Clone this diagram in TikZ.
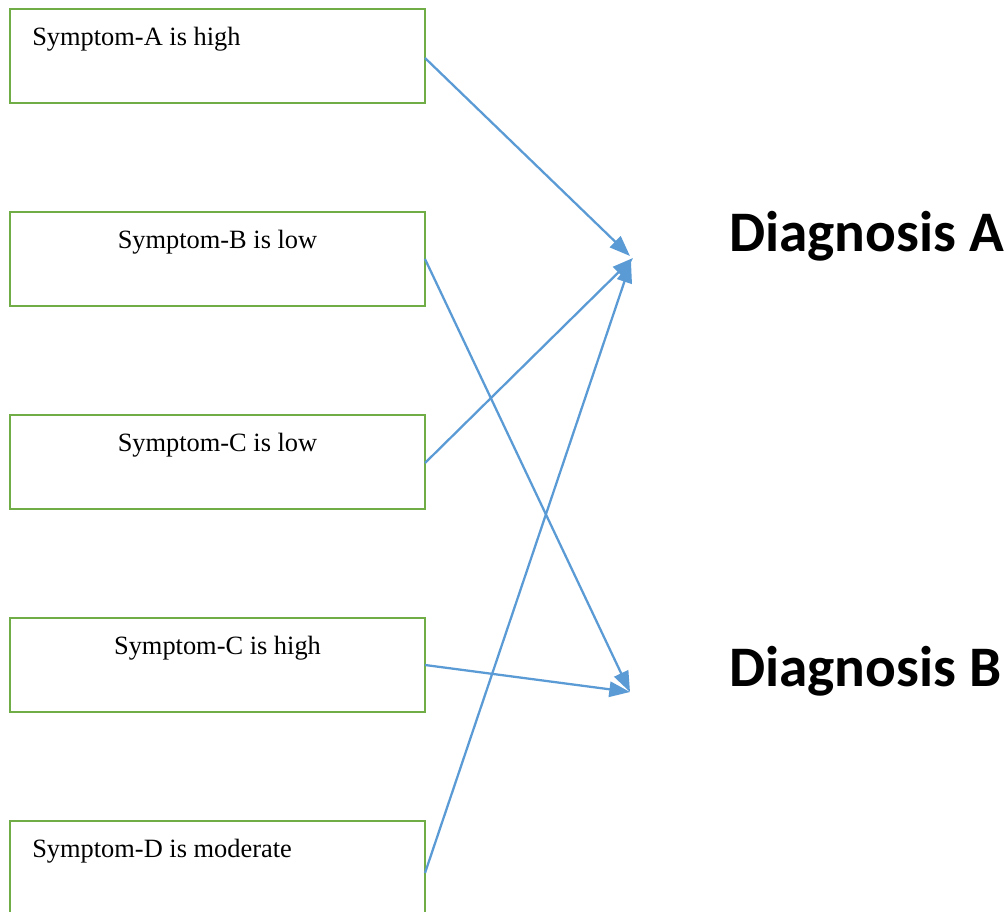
\documentclass[tikz,border=0pt]{standalone}
\usepackage{fontspec}
\setmainfont{Liberation Serif}
\newfontfamily\diagfont{Carlito}
\usetikzlibrary{arrows.meta,calc}
\definecolor{boxgreen}{HTML}{70AD47}
\definecolor{linkblue}{HTML}{5B9BD5}
\tikzset{
  symbox/.style={draw=boxgreen, line width=1.7pt, minimum width=311.25pt,
    minimum height=70.5pt, anchor=north west, inner sep=0pt, outer sep=0pt},
  symtext/.style={font=\fontsize{19.8}{22}\selectfont, inner sep=0pt},
  diagtext/.style={font=\diagfont\bfseries\fontsize{43}{48}\selectfont,
    inner sep=0pt, anchor=base west},
  link/.style={draw=linkblue, line width=1.7pt,
    -{Triangle[length=15.5pt,width=11.5pt]}}
}
\begin{document}
\begin{tikzpicture}[x=0.75pt,y=-0.75pt]
  \clip (0,0) rectangle (1008,912);
  \fill[white] (0,0) rectangle (1008,912);

  % symptom boxes
  \node[symbox] (sa) at (10,9) {};
  \node[symbox] (sb) at (10,212) {};
  \node[symbox] (sc) at (10,415) {};
  \node[symbox] (sd) at (10,618) {};
  \node[symbox, minimum height=78pt] (se) at (10,821) {};

  % symptom labels
  \node[symtext, anchor=base west] (la) at ($(sa.north west)+(22,37)$) {Symptom-A is high};
  \node[symtext, anchor=base] (lb) at ($(sb.north)+(0,37)$) {Symptom-B is low};
  \node[symtext, anchor=base] (lc) at ($(sc.north)+(0,37)$) {Symptom-C is low};
  \node[symtext, anchor=base] (ld) at ($(sd.north)+(0,37)$) {Symptom-C is high};
  \node[symtext, anchor=base west] (le) at ($(se.north west)+(22,37)$) {Symptom-D is moderate};

  % diagnoses
  \node[diagtext] (da) at (729,252) {Diagnosis A};
  \node[diagtext] (db) at (729,687) {Diagnosis B};

  % arrow targets in front of the diagnoses
  \coordinate (ta1) at (630,256);
  \coordinate (ta2) at (633,258);
  \coordinate (ta3) at (631,262);
  \coordinate (tb)  at (630,692);

  % links
  \draw[link] ($(sa.north east)+(0,49)$) -- (ta1);
  \draw[link] (sb.east) -- (tb);
  \draw[link] ($(sc.north east)+(0,48)$) -- (ta2);
  \draw[link] ($(sd.north east)+(0,47)$) -- (tb);
  \draw[link] ($(se.north east)+(0,52)$) -- (ta3);
\end{tikzpicture}
\end{document}
